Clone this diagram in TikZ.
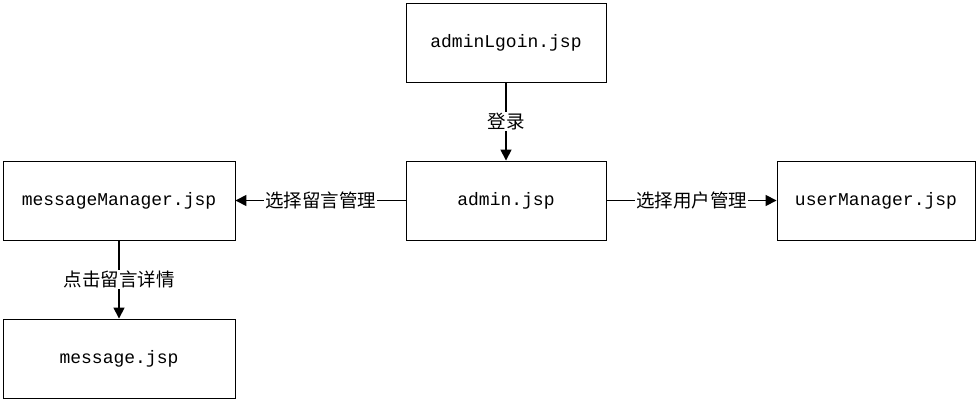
\documentclass[tikz,border=0pt]{standalone}
\usepackage{fontspec}
\setmainfont{Liberation Mono}
\newfontfamily\cjk{Noto Sans CJK SC}
\usetikzlibrary{calc}
\usetikzlibrary{arrows.meta}

\tikzset{
    page/.style={draw=black, line width=0.9pt, minimum height=79pt, font=\fontsize{18}{21}\selectfont},
    flow/.style={line width=1.6pt, -{Triangle[length=11pt,width=11pt]}},
    tag/.style={fill=white, inner sep=1pt, font=\cjk\fontsize{18.5}{21}\selectfont}
}

\begin{document}
\begin{tikzpicture}[x=1pt, y=-1pt]
\useasboundingbox (0, 0) rectangle (979, 403);
\node[page, minimum width=200pt] (login) at (506, 42.5) {adminLgoin.jsp};
\node[page, minimum width=200pt] (admin) at (506, 200.5) {admin.jsp};
\node[page, minimum width=232pt] (msgmgr) at (119, 200.5) {messageManager.jsp};
\node[page, minimum width=198pt] (usermgr) at (876, 200.5) {userManager.jsp};
\node[page, minimum width=232pt] (msg) at (119, 358.5) {message.jsp};
\draw[flow] (login) -- node[tag] {登录} (admin);
\draw[flow] (admin) -- node[tag] {选择留言管理} (msgmgr);
\draw[flow] (admin) -- node[tag] {选择用户管理} (usermgr);
\draw[flow] (msgmgr) -- node[tag] {点击留言详情} (msg);
\end{tikzpicture}
\end{document}
